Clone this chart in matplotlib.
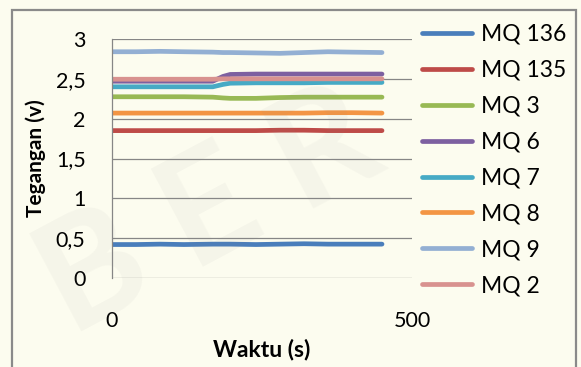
import matplotlib
matplotlib.use("Agg")
import matplotlib.pyplot as plt
from matplotlib.patches import Rectangle

# Sampling instants (s)
waktu = [0, 40, 80, 120, 168, 185, 197, 240, 280, 320, 360, 400, 450]

# Sensor voltages (V)
mq136 = [0.42, 0.42, 0.425, 0.42, 0.425, 0.425, 0.425, 0.42, 0.425, 0.43, 0.425, 0.425, 0.425]
mq135 = [1.85, 1.85, 1.85, 1.85, 1.85, 1.85, 1.85, 1.85, 1.855, 1.855, 1.85, 1.85, 1.85]
mq3 = [2.275, 2.275, 2.275, 2.275, 2.27, 2.26, 2.255, 2.255, 2.265, 2.27, 2.27, 2.27, 2.27]
mq6 = [2.47, 2.47, 2.47, 2.47, 2.47, 2.53, 2.555, 2.56, 2.56, 2.56, 2.56, 2.56, 2.56]
mq7 = [2.40, 2.40, 2.40, 2.40, 2.40, 2.43, 2.445, 2.45, 2.45, 2.45, 2.455, 2.455, 2.455]
mq8 = [2.07, 2.07, 2.07, 2.07, 2.07, 2.07, 2.07, 2.07, 2.07, 2.07, 2.075, 2.075, 2.07]
mq9 = [2.84, 2.84, 2.845, 2.84, 2.835, 2.83, 2.83, 2.825, 2.82, 2.83, 2.84, 2.835, 2.83]
mq2 = [2.495, 2.495, 2.495, 2.495, 2.495, 2.5, 2.5, 2.5, 2.5, 2.5, 2.5, 2.5, 2.5]

series_names = ["MQ 136", "MQ 135", "MQ 3", "MQ 6", "MQ 7", "MQ 8", "MQ 9", "MQ 2"]
series_values = [mq136, mq135, mq3, mq6, mq7, mq8, mq9, mq2]
series_colors = ["#4A7EBB", "#BE4B48", "#98B954", "#7D60A0",
                 "#46AAC5", "#F39544", "#93AFD3", "#D8928F"]

y_ticks = [0, 0.5, 1, 1.5, 2, 2.5, 3]
y_tick_labels = ["0", "0,5", "1", "1,5", "2", "2,5", "3"]
x_ticks = [0, 500]
x_tick_labels = ["0", "500"]

plt.rcParams["font.family"] = ["Lato", "DejaVu Sans"]

W, H = 581, 367
bg = "#FCFCEF"
fig = plt.figure(figsize=(W / 100, H / 100), dpi=100, facecolor=bg)

# faint watermark lettering behind the chart
fig.text(0.03, 0.02, "B E R", fontsize=110, fontweight="bold", color="#8a8a8a",
         alpha=0.06, rotation=28, ha="left", va="bottom", zorder=0)

# outer chart frame
fig.patches.append(Rectangle((12 / W, -0.01), (576 - 12) / W, 1 - 10 / H + 0.01,
                             transform=fig.transFigure, fill=False,
                             edgecolor="#8A8A8A", linewidth=1.6, zorder=1))

ax = fig.add_axes([112 / W, 1 - 278 / H, 300 / W, (278 - 39) / H])
ax.set_facecolor("none")

for name, vals, col in zip(series_names, series_values, series_colors):
    ax.plot(waktu, vals, color=col, lw=3.4, solid_capstyle="round",
            solid_joinstyle="round", label=name)

ax.set_xlim(0, 500)
ax.set_ylim(0, 3)
ax.set_yticks(y_ticks)
ax.set_yticklabels(y_tick_labels)
ax.set_xticks(x_ticks)
ax.set_xticklabels(x_tick_labels)
ax.tick_params(axis="both", length=0, labelsize=15.5, colors="#000000")
ax.tick_params(axis="y", pad=19)
ax.tick_params(axis="x", pad=24)

ax.grid(axis="y", color="#868686", lw=0.9)
ax.set_axisbelow(True)
for side in ["top", "right", "bottom"]:
    ax.spines[side].set_visible(False)
ax.spines["left"].set_color("#868686")
ax.spines["left"].set_linewidth(0.9)

ax.set_xlabel("Waktu (s)", fontsize=16.5, fontweight="bold", labelpad=5)
ax.set_ylabel("Tegangan (v)", fontsize=15, fontweight="bold", labelpad=7)

leg = ax.legend(loc="upper left", bbox_to_anchor=(422 / W, 1 - 24 / H),
                bbox_transform=fig.transFigure, frameon=False, fontsize=16.5,
                handlelength=2.2, handletextpad=0.36, labelspacing=0.65,
                borderpad=0, borderaxespad=0)
for line in leg.get_lines():
    line.set_linewidth(3.4)
    line.set_solid_capstyle("round")

fig.savefig("out.png", dpi=100, facecolor=bg)
